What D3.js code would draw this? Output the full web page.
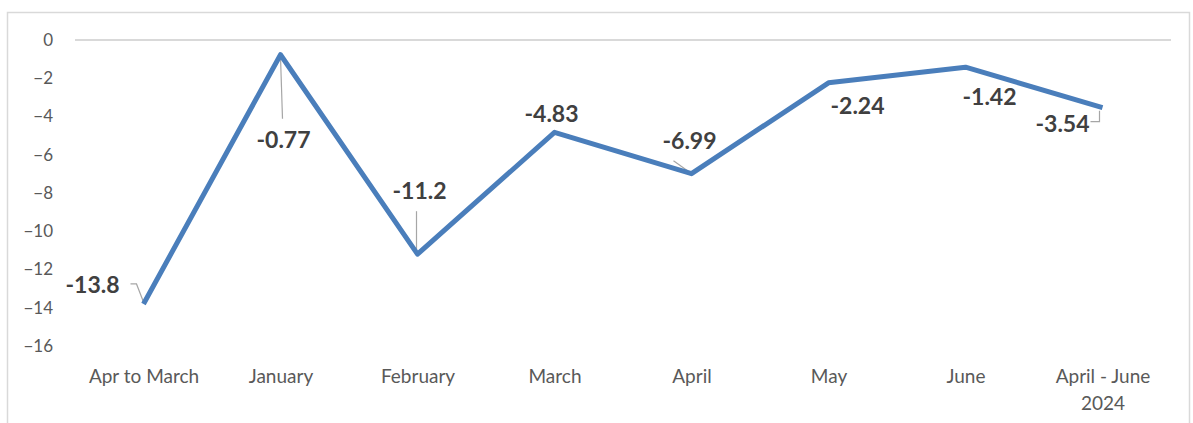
<!DOCTYPE html>
<html>
<head>
<meta charset="utf-8">
<script src="https://cdn.jsdelivr.net/npm/d3@7"></script>
<style>
  body { margin: 0; background: #fff; overflow: hidden; }
  svg { display: block; }
  text { font-family: Lato, "Open Sans", sans-serif; }
</style>
</head>
<body>
<svg id="canvas"></svg>
<script>
let categories = ["Apr to March", "January", "February", "March", "April", "May", "June", "April - June 2024"];
let values = [-13.8, -0.77, -11.2, -4.83, -6.99, -2.24, -1.42, -3.54];
let valueLabels = ["-13.8", "-0.77", "-11.2", "-4.83", "-6.99", "-2.24", "-1.42", "-3.54"];
let yTicks = [0, -2, -4, -6, -8, -10, -12, -14, -16];

// label offsets from the point (pixels)
let labelOffsets = [[-51, -19], [3, 85], [2, -63], [-3, -19], [-2, -33], [29, 23], [24, 30], [-40, 16]];

let width = 1193;
let height = 423;
let plotLeft = 75, plotRight = 1171, plotTop = 40, plotBottom = 346;

let canvas = d3.select("#canvas").attr("width", width).attr("height", height);

// chart frame
canvas.append("rect")
  .attr("x", 7.5).attr("y", 12.5)
  .attr("width", 1182).attr("height", 430)
  .attr("fill", "none").attr("stroke", "#d9d9d9").attr("stroke-width", 1.5);

let xScale = d3.scalePoint().domain(categories).range([plotLeft, plotRight]).padding(0.5);
let yScale = d3.scaleLinear().domain([-16, 0]).range([plotBottom, plotTop]);

// zero gridline
canvas.append("line")
  .attr("x1", plotLeft).attr("x2", plotRight)
  .attr("y1", yScale(0)).attr("y2", yScale(0))
  .attr("stroke", "#d9d9d9").attr("stroke-width", 2);

let yAxis = d3.axisLeft(yScale).tickValues(yTicks).tickSize(0).tickPadding(0).tickFormat(d3.format("d"));
let gy = canvas.append("g").attr("transform", "translate(53, 0)").call(yAxis);
gy.select(".domain").remove();
gy.selectAll("text").attr("fill", "#595959").style("font-size", "17px");

let xAxis = d3.axisBottom(xScale).tickSize(0).tickFormat("");
let gx = canvas.append("g").attr("transform", "translate(0, " + plotBottom + ")").call(xAxis);
gx.select(".domain").remove();
gx.selectAll(".tick").each(function (d) {
  let t = d3.select(this).append("text")
    .attr("fill", "#595959").attr("text-anchor", "middle")
    .style("font-size", "19px");
  let lines = d === "April - June 2024" ? ["April - June", "2024"] : [d];
  lines.forEach((ln, i) => {
    t.append("tspan").attr("x", 0).attr("y", 37 + i * 27).text(ln);
  });
});

let points = categories.map((c, i) => ({ c: c, v: values[i], label: valueLabels[i], off: labelOffsets[i] }));

let line = d3.line().x((d) => xScale(d.c)).y((d) => yScale(d.v));

// leader lines
let leaders = [
  (p) => [[p[0] - 13, p[1] - 20], [p[0] - 7, p[1] - 20], [p[0], p[1] - 2]],
  (p) => [[p[0], p[1] + 2], [p[0] + 2, p[1] + 64]],
  (p) => [[p[0] - 1, p[1] - 43], [p[0] - 1, p[1] - 2]],
  null,
  (p) => [[p[0] - 18, p[1] - 13], [p[0] - 4, p[1] - 3]],
  null,
  null,
  (p) => [[p[0] - 12, p[1] + 14], [p[0] - 3, p[1] + 14], [p[0] - 3, p[1] + 3]]
];

points.forEach((d, i) => {
  if (!leaders[i]) return;
  let p = [xScale(d.c), yScale(d.v)];
  canvas.append("path")
    .attr("d", d3.line()(leaders[i](p)))
    .attr("fill", "none").attr("stroke", "#a6a6a6").attr("stroke-width", 1.2);
});

canvas.append("path")
  .datum(points)
  .attr("d", line)
  .attr("fill", "none")
  .attr("stroke", "#4a7ebb")
  .attr("stroke-width", 5)
  .attr("stroke-linejoin", "round");

canvas.selectAll(".dlabel")
  .data(points)
  .enter()
  .append("text")
  .attr("class", "dlabel")
  .attr("x", (d) => xScale(d.c) + d.off[0])
  .attr("y", (d) => yScale(d.v) + d.off[1])
  .attr("dy", "0.36em")
  .attr("text-anchor", "middle")
  .attr("fill", "#404040")
  .style("font-size", "23px")
  .style("font-weight", "bold")
  .text((d) => d.label);
</script>
</body>
</html>
